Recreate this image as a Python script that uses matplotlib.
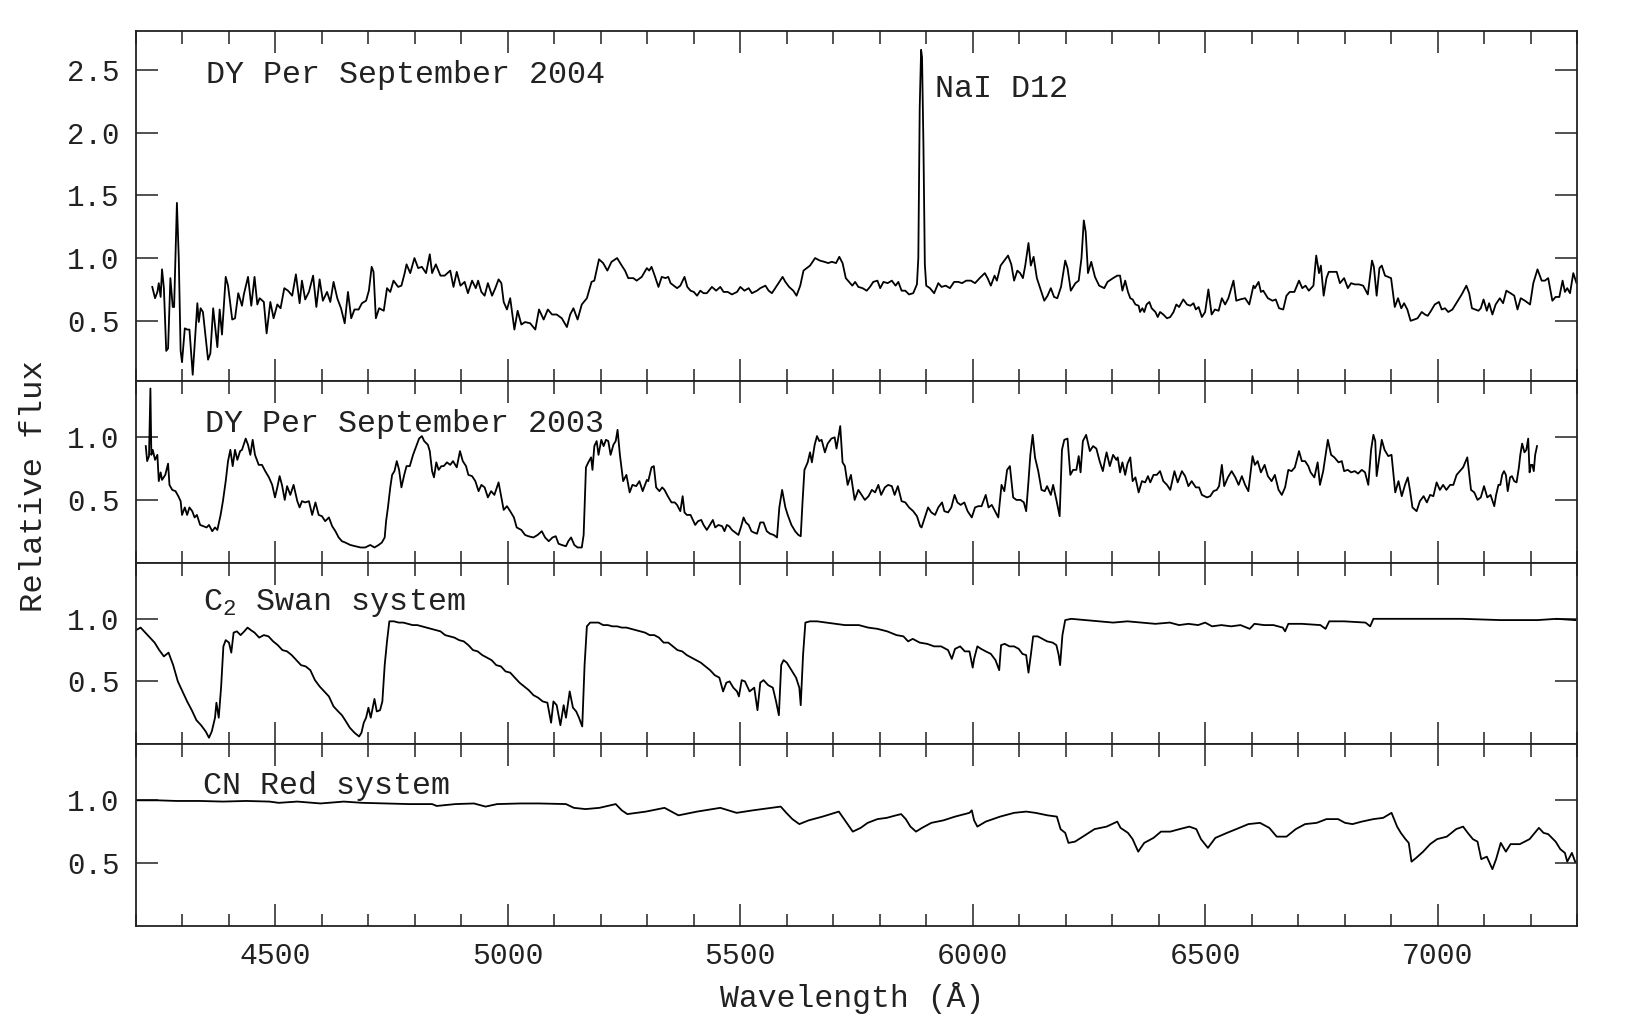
import matplotlib
matplotlib.use('Agg')
import matplotlib.pyplot as plt
from matplotlib.ticker import MultipleLocator, FixedLocator, FormatStrFormatter


# spectra: (wavelength [A], relative flux)
sep2004 = [
    (4235, 0.77), (4241, 0.68), (4246, 0.73), (4249, 0.80), (4253, 0.69), (4256, 0.91),
    (4260, 0.76), (4265, 0.26), (4269, 0.28), (4274, 0.84), (4279, 0.61), (4282, 0.61),
    (4288, 1.44), (4292, 1.00), (4296, 0.26), (4299, 0.17), (4305, 0.44), (4310, 0.43),
    (4315, 0.43), (4322, 0.07), (4332, 0.64), (4335, 0.49), (4339, 0.60), (4344, 0.57),
    (4355, 0.19), (4360, 0.24), (4366, 0.60), (4375, 0.29), (4380, 0.59), (4385, 0.39),
    (4393, 0.85), (4398, 0.78), (4407, 0.51), (4413, 0.52), (4420, 0.72), (4428, 0.62),
    (4432, 0.71), (4441, 0.85), (4448, 0.62), (4455, 0.85), (4461, 0.63), (4466, 0.68),
    (4475, 0.65), (4481, 0.40), (4489, 0.65), (4496, 0.52), (4504, 0.63), (4511, 0.60),
    (4519, 0.76), (4527, 0.74), (4536, 0.70), (4544, 0.87), (4552, 0.64), (4557, 0.82),
    (4564, 0.67), (4572, 0.73), (4581, 0.86), (4588, 0.61), (4595, 0.83), (4602, 0.66),
    (4611, 0.73), (4618, 0.65), (4625, 0.81), (4633, 0.68), (4641, 0.60), (4649, 0.48),
    (4656, 0.73), (4663, 0.52), (4670, 0.59), (4679, 0.59), (4686, 0.64), (4695, 0.66),
    (4701, 0.74), (4707, 0.93), (4711, 0.89), (4716, 0.52), (4723, 0.60), (4733, 0.58),
    (4740, 0.76), (4747, 0.73), (4754, 0.82), (4764, 0.77), (4771, 0.78), (4778, 0.88),
    (4782, 0.95), (4790, 0.88), (4799, 1.00), (4807, 0.92), (4815, 0.93), (4824, 0.88),
    (4832, 1.03), (4837, 0.88), (4845, 0.95), (4855, 0.86), (4864, 0.86), (4876, 0.90),
    (4883, 0.77), (4890, 0.89), (4898, 0.78), (4907, 0.81), (4914, 0.72), (4923, 0.82),
    (4931, 0.76), (4936, 0.82), (4943, 0.73), (4950, 0.70), (4957, 0.80), (4966, 0.70),
    (4973, 0.76), (4980, 0.83), (4986, 0.80), (4991, 0.65), (4998, 0.59), (5005, 0.68),
    (5014, 0.43), (5021, 0.58), (5029, 0.47), (5037, 0.49), (5048, 0.48), (5059, 0.43),
    (5067, 0.59), (5077, 0.51), (5086, 0.59), (5095, 0.55), (5105, 0.55), (5116, 0.52),
    (5127, 0.45), (5134, 0.55), (5141, 0.60), (5150, 0.51), (5159, 0.63), (5170, 0.68),
    (5180, 0.81), (5186, 0.82), (5196, 0.99), (5205, 0.96), (5214, 0.90), (5223, 0.97),
    (5235, 1.00), (5245, 0.94), (5252, 0.90), (5259, 0.84), (5270, 0.84), (5277, 0.82),
    (5288, 0.85), (5299, 0.92), (5304, 0.90), (5309, 0.93), (5314, 0.88), (5324, 0.77),
    (5331, 0.85), (5339, 0.84), (5345, 0.85), (5350, 0.80), (5357, 0.78), (5364, 0.76),
    (5371, 0.78), (5380, 0.85), (5386, 0.77), (5393, 0.74), (5400, 0.73), (5407, 0.70),
    (5414, 0.74), (5421, 0.72), (5428, 0.72), (5439, 0.77), (5448, 0.74), (5457, 0.77),
    (5464, 0.73), (5473, 0.73), (5482, 0.71), (5493, 0.73), (5500, 0.77), (5509, 0.74),
    (5518, 0.76), (5525, 0.72), (5536, 0.74), (5543, 0.76), (5554, 0.78), (5561, 0.74),
    (5568, 0.72), (5577, 0.77), (5584, 0.81), (5591, 0.85), (5597, 0.81), (5605, 0.77),
    (5614, 0.74), (5621, 0.70), (5629, 0.78), (5636, 0.90), (5643, 0.92), (5650, 0.94),
    (5661, 1.00), (5671, 0.98), (5681, 0.97), (5689, 0.96), (5697, 0.97), (5706, 0.96),
    (5713, 1.01), (5720, 0.96), (5727, 0.84), (5734, 0.81), (5741, 0.78), (5747, 0.81),
    (5754, 0.77), (5763, 0.76), (5772, 0.74), (5779, 0.77), (5786, 0.81), (5795, 0.82),
    (5801, 0.76), (5808, 0.81), (5817, 0.80), (5826, 0.82), (5834, 0.78), (5840, 0.81),
    (5847, 0.74), (5855, 0.74), (5863, 0.71), (5872, 0.72), (5880, 0.79), (5883, 1.00),
    (5886, 2.20), (5889, 2.66), (5891, 2.60), (5894, 1.90), (5897, 0.95), (5900, 0.78),
    (5908, 0.76), (5917, 0.72), (5926, 0.80), (5933, 0.77), (5942, 0.78), (5951, 0.76),
    (5960, 0.81), (5969, 0.81), (5977, 0.80), (5986, 0.82), (5996, 0.82), (6005, 0.80),
    (6015, 0.84), (6026, 0.88), (6032, 0.84), (6039, 0.78), (6047, 0.86), (6052, 0.82),
    (6060, 0.94), (6068, 0.98), (6076, 1.02), (6083, 0.95), (6089, 0.82), (6096, 0.90),
    (6102, 0.88), (6108, 0.84), (6113, 0.94), (6120, 1.12), (6125, 0.94), (6131, 1.01),
    (6138, 0.84), (6147, 0.74), (6154, 0.66), (6161, 0.70), (6168, 0.76), (6175, 0.69),
    (6182, 0.68), (6190, 0.77), (6199, 0.98), (6204, 0.92), (6211, 0.74), (6221, 0.80),
    (6228, 0.82), (6234, 1.00), (6239, 1.30), (6243, 1.21), (6248, 0.88), (6255, 0.97),
    (6263, 0.85), (6272, 0.78), (6283, 0.76), (6290, 0.81), (6302, 0.84), (6311, 0.86),
    (6317, 0.86), (6322, 0.74), (6328, 0.82), (6334, 0.73), (6339, 0.68), (6344, 0.67),
    (6350, 0.63), (6357, 0.62), (6360, 0.57), (6365, 0.60), (6369, 0.57), (6374, 0.63),
    (6380, 0.65), (6385, 0.60), (6393, 0.57), (6398, 0.53), (6403, 0.57), (6410, 0.55),
    (6418, 0.52), (6425, 0.53), (6432, 0.57), (6438, 0.63), (6444, 0.61), (6453, 0.67),
    (6461, 0.63), (6468, 0.62), (6475, 0.64), (6480, 0.59), (6486, 0.61), (6493, 0.53),
    (6500, 0.57), (6507, 0.75), (6514, 0.55), (6521, 0.59), (6529, 0.58), (6536, 0.68),
    (6543, 0.63), (6550, 0.68), (6561, 0.82), (6567, 0.66), (6575, 0.67), (6586, 0.68),
    (6595, 0.63), (6604, 0.78), (6607, 0.76), (6615, 0.81), (6620, 0.73), (6625, 0.74),
    (6635, 0.68), (6645, 0.66), (6652, 0.67), (6659, 0.60), (6668, 0.59), (6675, 0.70),
    (6682, 0.73), (6692, 0.73), (6702, 0.82), (6709, 0.76), (6716, 0.78), (6723, 0.74),
    (6733, 0.78), (6739, 1.02), (6745, 0.88), (6749, 0.94), (6755, 0.70), (6761, 0.84),
    (6766, 0.89), (6773, 0.89), (6783, 0.89), (6790, 0.80), (6799, 0.84), (6807, 0.76),
    (6814, 0.80), (6822, 0.79), (6831, 0.79), (6840, 0.78), (6850, 0.71), (6859, 0.98),
    (6863, 0.93), (6869, 0.70), (6875, 0.92), (6880, 0.94), (6887, 0.86), (6900, 0.84),
    (6908, 0.61), (6915, 0.68), (6922, 0.60), (6928, 0.64), (6935, 0.59), (6942, 0.50),
    (6950, 0.51), (6957, 0.52), (6966, 0.57), (6973, 0.55), (6979, 0.54), (6986, 0.58),
    (6994, 0.63), (7003, 0.65), (7009, 0.59), (7016, 0.60), (7023, 0.57), (7032, 0.59),
    (7042, 0.65), (7052, 0.71), (7062, 0.78), (7068, 0.72), (7074, 0.60), (7081, 0.59),
    (7088, 0.58), (7093, 0.60), (7099, 0.67), (7106, 0.58), (7111, 0.64), (7118, 0.55),
    (7125, 0.63), (7134, 0.68), (7141, 0.64), (7148, 0.74), (7157, 0.72), (7165, 0.70),
    (7172, 0.59), (7179, 0.68), (7188, 0.66), (7199, 0.63), (7206, 0.80), (7215, 0.91),
    (7224, 0.82), (7231, 0.82), (7238, 0.84), (7247, 0.66), (7254, 0.69), (7262, 0.69),
    (7269, 0.82), (7274, 0.73), (7279, 0.76), (7285, 0.72), (7292, 0.88), (7299, 0.80),
]

sep2003 = [
    (4221, 0.93), (4224, 0.81), (4228, 0.85), (4231, 1.39), (4233, 0.86), (4236, 0.90),
    (4241, 0.82), (4246, 0.86), (4249, 0.65), (4253, 0.72), (4256, 0.66), (4263, 0.70),
    (4269, 0.79), (4272, 0.62), (4278, 0.58), (4285, 0.57), (4291, 0.53), (4296, 0.49),
    (4299, 0.38), (4305, 0.44), (4310, 0.38), (4315, 0.44), (4321, 0.41), (4326, 0.36),
    (4331, 0.38), (4338, 0.30), (4345, 0.29), (4352, 0.28), (4357, 0.30), (4364, 0.25),
    (4370, 0.28), (4375, 0.26), (4382, 0.38), (4387, 0.49), (4393, 0.65), (4398, 0.81),
    (4403, 0.90), (4408, 0.77), (4413, 0.90), (4418, 0.82), (4424, 0.89), (4428, 0.90),
    (4436, 0.99), (4441, 0.94), (4446, 0.86), (4451, 0.98), (4456, 0.86), (4464, 0.78),
    (4471, 0.78), (4478, 0.73), (4486, 0.68), (4493, 0.62), (4499, 0.52), (4504, 0.60),
    (4509, 0.69), (4514, 0.62), (4520, 0.50), (4525, 0.61), (4532, 0.54), (4539, 0.62),
    (4547, 0.49), (4552, 0.44), (4557, 0.49), (4564, 0.48), (4572, 0.49), (4579, 0.38),
    (4586, 0.48), (4593, 0.38), (4600, 0.37), (4607, 0.33), (4615, 0.36), (4622, 0.29),
    (4629, 0.25), (4636, 0.20), (4643, 0.17), (4650, 0.16), (4661, 0.14), (4672, 0.13),
    (4683, 0.12), (4693, 0.12), (4704, 0.14), (4713, 0.12), (4722, 0.14), (4729, 0.16),
    (4735, 0.20), (4738, 0.33), (4742, 0.44), (4747, 0.60), (4751, 0.70), (4756, 0.73),
    (4761, 0.81), (4766, 0.74), (4771, 0.60), (4777, 0.70), (4782, 0.77), (4789, 0.77),
    (4796, 0.86), (4804, 0.94), (4809, 0.99), (4815, 1.01), (4820, 0.97), (4828, 0.94),
    (4832, 0.89), (4837, 0.73), (4841, 0.68), (4846, 0.80), (4851, 0.74), (4857, 0.77),
    (4862, 0.77), (4869, 0.80), (4876, 0.78), (4882, 0.81), (4890, 0.76), (4897, 0.89),
    (4903, 0.81), (4910, 0.77), (4915, 0.70), (4923, 0.69), (4930, 0.65), (4937, 0.57),
    (4943, 0.62), (4950, 0.60), (4957, 0.52), (4964, 0.57), (4971, 0.54), (4980, 0.64),
    (4986, 0.52), (4991, 0.42), (4998, 0.45), (5005, 0.41), (5013, 0.36), (5019, 0.28),
    (5029, 0.26), (5037, 0.22), (5044, 0.21), (5055, 0.20), (5064, 0.22), (5073, 0.25),
    (5080, 0.20), (5088, 0.17), (5096, 0.20), (5103, 0.21), (5109, 0.15), (5116, 0.14),
    (5125, 0.13), (5130, 0.17), (5136, 0.20), (5143, 0.14), (5150, 0.12), (5159, 0.12),
    (5163, 0.22), (5168, 0.76), (5173, 0.80), (5179, 0.84), (5182, 0.74), (5186, 0.93),
    (5191, 0.97), (5195, 0.86), (5201, 0.98), (5206, 0.93), (5211, 0.98), (5216, 0.97),
    (5221, 0.86), (5227, 0.94), (5232, 0.97), (5236, 1.06), (5241, 0.86), (5248, 0.65),
    (5255, 0.70), (5262, 0.56), (5268, 0.62), (5276, 0.61), (5283, 0.65), (5290, 0.57),
    (5299, 0.66), (5302, 0.65), (5309, 0.76), (5314, 0.77), (5319, 0.60), (5326, 0.57),
    (5332, 0.60), (5337, 0.58), (5344, 0.53), (5352, 0.48), (5359, 0.48), (5364, 0.46),
    (5371, 0.41), (5376, 0.53), (5380, 0.40), (5385, 0.38), (5393, 0.38), (5398, 0.34),
    (5403, 0.30), (5409, 0.33), (5416, 0.34), (5421, 0.30), (5428, 0.26), (5433, 0.29),
    (5441, 0.34), (5446, 0.28), (5453, 0.30), (5461, 0.29), (5466, 0.25), (5471, 0.30),
    (5476, 0.29), (5482, 0.26), (5489, 0.24), (5496, 0.22), (5502, 0.29), (5507, 0.36),
    (5512, 0.32), (5518, 0.30), (5524, 0.25), (5529, 0.24), (5536, 0.23), (5543, 0.32),
    (5550, 0.32), (5557, 0.25), (5564, 0.23), (5572, 0.22), (5579, 0.20), (5584, 0.44),
    (5590, 0.58), (5597, 0.44), (5602, 0.38), (5610, 0.30), (5618, 0.25), (5625, 0.22),
    (5630, 0.21), (5634, 0.49), (5638, 0.74), (5645, 0.80), (5650, 0.88), (5654, 0.80),
    (5660, 0.94), (5665, 1.01), (5670, 0.97), (5675, 0.98), (5682, 0.88), (5688, 0.95),
    (5696, 0.99), (5703, 1.00), (5707, 0.91), (5715, 1.09), (5720, 0.80), (5725, 0.77),
    (5731, 0.62), (5738, 0.70), (5746, 0.50), (5754, 0.58), (5761, 0.54), (5768, 0.50),
    (5776, 0.53), (5783, 0.58), (5790, 0.56), (5797, 0.62), (5803, 0.54), (5811, 0.60),
    (5818, 0.62), (5826, 0.61), (5832, 0.54), (5839, 0.61), (5847, 0.49), (5855, 0.48),
    (5863, 0.44), (5872, 0.41), (5880, 0.37), (5887, 0.29), (5890, 0.28), (5897, 0.36),
    (5904, 0.44), (5911, 0.40), (5919, 0.38), (5926, 0.44), (5934, 0.48), (5939, 0.41),
    (5947, 0.40), (5954, 0.44), (5961, 0.54), (5967, 0.48), (5974, 0.46), (5982, 0.48),
    (5989, 0.41), (5998, 0.36), (6005, 0.44), (6012, 0.45), (6019, 0.45), (6028, 0.54),
    (6034, 0.44), (6041, 0.46), (6048, 0.41), (6055, 0.36), (6062, 0.62), (6068, 0.57),
    (6074, 0.74), (6080, 0.77), (6087, 0.52), (6094, 0.50), (6103, 0.50), (6110, 0.48),
    (6115, 0.41), (6120, 0.65), (6124, 0.86), (6129, 1.02), (6134, 0.84), (6141, 0.73),
    (6148, 0.58), (6155, 0.57), (6160, 0.61), (6168, 0.54), (6173, 0.62), (6180, 0.50),
    (6187, 0.37), (6192, 0.90), (6197, 0.98), (6204, 0.99), (6210, 0.70), (6216, 0.74),
    (6223, 0.74), (6228, 0.85), (6232, 0.72), (6237, 0.97), (6244, 1.02), (6252, 0.89),
    (6259, 0.93), (6266, 0.91), (6273, 0.81), (6280, 0.73), (6284, 0.81), (6288, 0.88),
    (6295, 0.77), (6302, 0.86), (6309, 0.82), (6312, 0.84), (6317, 0.72), (6322, 0.80),
    (6328, 0.70), (6333, 0.79), (6339, 0.84), (6344, 0.65), (6350, 0.68), (6357, 0.56),
    (6364, 0.65), (6371, 0.64), (6377, 0.69), (6382, 0.64), (6389, 0.70), (6396, 0.70),
    (6403, 0.73), (6410, 0.65), (6418, 0.62), (6425, 0.58), (6434, 0.73), (6441, 0.64),
    (6450, 0.73), (6457, 0.69), (6464, 0.61), (6471, 0.65), (6480, 0.60), (6487, 0.60),
    (6493, 0.54), (6504, 0.52), (6511, 0.53), (6518, 0.57), (6525, 0.58), (6530, 0.61),
    (6536, 0.78), (6541, 0.61), (6549, 0.68), (6557, 0.73), (6565, 0.68), (6572, 0.62),
    (6579, 0.69), (6586, 0.62), (6593, 0.57), (6602, 0.85), (6607, 0.78), (6613, 0.81),
    (6620, 0.72), (6628, 0.78), (6635, 0.69), (6643, 0.65), (6650, 0.70), (6658, 0.58),
    (6665, 0.54), (6672, 0.60), (6679, 0.74), (6686, 0.73), (6693, 0.76), (6702, 0.89),
    (6708, 0.81), (6715, 0.81), (6722, 0.77), (6727, 0.72), (6735, 0.68), (6742, 0.80),
    (6747, 0.62), (6754, 0.73), (6764, 0.98), (6771, 0.86), (6778, 0.84), (6787, 0.80),
    (6794, 0.81), (6799, 0.73), (6807, 0.74), (6814, 0.72), (6822, 0.73), (6829, 0.71),
    (6837, 0.74), (6844, 0.72), (6851, 0.62), (6857, 0.90), (6862, 1.02), (6866, 0.97),
    (6869, 0.69), (6875, 0.85), (6880, 0.98), (6886, 0.90), (6894, 0.85), (6901, 0.86),
    (6909, 0.56), (6916, 0.65), (6923, 0.53), (6930, 0.62), (6936, 0.68), (6941, 0.57),
    (6946, 0.44), (6955, 0.41), (6962, 0.49), (6970, 0.53), (6977, 0.48), (6984, 0.54),
    (6991, 0.53), (6998, 0.64), (7005, 0.58), (7012, 0.62), (7019, 0.58), (7027, 0.62),
    (7034, 0.62), (7041, 0.70), (7048, 0.73), (7055, 0.76), (7064, 0.84), (7072, 0.58),
    (7079, 0.56), (7086, 0.50), (7093, 0.52), (7100, 0.61), (7107, 0.52), (7114, 0.54),
    (7122, 0.45), (7126, 0.54), (7131, 0.62), (7135, 0.62), (7139, 0.70), (7143, 0.73),
    (7147, 0.70), (7151, 0.57), (7156, 0.68), (7160, 0.69), (7165, 0.65), (7170, 0.64),
    (7175, 0.76), (7178, 0.86), (7182, 0.95), (7187, 0.88), (7191, 0.90), (7195, 0.99),
    (7198, 0.72), (7201, 0.78), (7204, 0.78), (7207, 0.73), (7210, 0.86), (7214, 0.93),
]

c2_swan = [
    (4200, 0.91), (4210, 0.93), (4225, 0.87), (4240, 0.81), (4250, 0.75), (4260, 0.70),
    (4270, 0.73), (4280, 0.63), (4290, 0.50), (4300, 0.42), (4310, 0.34), (4320, 0.27),
    (4330, 0.19), (4340, 0.15), (4350, 0.10), (4357, 0.05), (4363, 0.10), (4370, 0.21),
    (4373, 0.33), (4378, 0.21), (4383, 0.45), (4388, 0.78), (4393, 0.83), (4400, 0.81),
    (4405, 0.73), (4410, 0.89), (4417, 0.90), (4425, 0.87), (4433, 0.90), (4440, 0.93),
    (4447, 0.91), (4455, 0.89), (4465, 0.85), (4475, 0.87), (4485, 0.86), (4495, 0.82),
    (4505, 0.79), (4515, 0.75), (4525, 0.74), (4535, 0.71), (4545, 0.67), (4555, 0.63),
    (4565, 0.62), (4575, 0.59), (4585, 0.51), (4595, 0.46), (4605, 0.42), (4615, 0.38),
    (4625, 0.30), (4635, 0.26), (4643, 0.23), (4650, 0.19), (4660, 0.13), (4670, 0.09),
    (4680, 0.06), (4685, 0.09), (4690, 0.17), (4695, 0.21), (4700, 0.29), (4705, 0.21),
    (4713, 0.36), (4718, 0.26), (4725, 0.27), (4730, 0.34), (4735, 0.63), (4740, 0.82),
    (4745, 0.98), (4755, 0.98), (4765, 0.97), (4775, 0.97), (4785, 0.96), (4795, 0.95),
    (4805, 0.95), (4815, 0.94), (4825, 0.93), (4835, 0.92), (4845, 0.91), (4855, 0.90),
    (4865, 0.87), (4875, 0.86), (4885, 0.85), (4895, 0.83), (4905, 0.82), (4915, 0.79),
    (4925, 0.75), (4935, 0.74), (4945, 0.71), (4955, 0.69), (4965, 0.67), (4975, 0.63),
    (4985, 0.62), (4995, 0.58), (5005, 0.57), (5015, 0.53), (5025, 0.49), (5035, 0.46),
    (5045, 0.43), (5055, 0.39), (5065, 0.37), (5075, 0.34), (5085, 0.33), (5093, 0.17),
    (5098, 0.34), (5105, 0.31), (5113, 0.15), (5120, 0.31), (5125, 0.21), (5133, 0.42),
    (5140, 0.29), (5147, 0.26), (5153, 0.21), (5160, 0.14), (5165, 0.63), (5170, 0.94),
    (5177, 0.97), (5185, 0.97), (5195, 0.97), (5205, 0.95), (5215, 0.95), (5225, 0.94),
    (5235, 0.94), (5245, 0.93), (5255, 0.93), (5265, 0.92), (5275, 0.91), (5285, 0.90),
    (5295, 0.89), (5305, 0.87), (5315, 0.87), (5325, 0.85), (5335, 0.81), (5345, 0.81),
    (5355, 0.78), (5365, 0.75), (5375, 0.74), (5385, 0.71), (5395, 0.69), (5405, 0.67),
    (5415, 0.65), (5425, 0.62), (5435, 0.59), (5445, 0.55), (5455, 0.53), (5463, 0.42),
    (5470, 0.49), (5477, 0.50), (5485, 0.45), (5493, 0.42), (5497, 0.38), (5503, 0.51),
    (5510, 0.50), (5520, 0.42), (5530, 0.45), (5537, 0.27), (5543, 0.49), (5550, 0.51),
    (5560, 0.47), (5570, 0.45), (5577, 0.34), (5583, 0.23), (5588, 0.63), (5593, 0.67),
    (5600, 0.65), (5610, 0.59), (5620, 0.53), (5627, 0.45), (5630, 0.31), (5635, 0.71),
    (5640, 0.97), (5650, 0.98), (5665, 0.98), (5685, 0.97), (5705, 0.96), (5725, 0.95),
    (5745, 0.95), (5755, 0.95), (5775, 0.93), (5795, 0.92), (5816, 0.90), (5836, 0.87),
    (5851, 0.86), (5861, 0.82), (5871, 0.84), (5886, 0.81), (5902, 0.80), (5917, 0.78),
    (5932, 0.78), (5947, 0.75), (5955, 0.68), (5962, 0.76), (5973, 0.78), (5983, 0.74),
    (5993, 0.74), (6000, 0.61), (6003, 0.68), (6010, 0.78), (6018, 0.76), (6028, 0.74),
    (6039, 0.72), (6049, 0.67), (6057, 0.59), (6061, 0.79), (6069, 0.80), (6079, 0.78),
    (6089, 0.78), (6099, 0.76), (6107, 0.72), (6115, 0.71), (6120, 0.57), (6125, 0.71),
    (6130, 0.86), (6140, 0.86), (6150, 0.84), (6160, 0.82), (6172, 0.81), (6180, 0.79),
    (6185, 0.71), (6188, 0.63), (6193, 0.87), (6199, 0.99), (6212, 1.00), (6241, 0.99),
    (6272, 0.98), (6302, 0.97), (6333, 0.98), (6363, 0.97), (6393, 0.96), (6424, 0.97),
    (6444, 0.95), (6464, 0.96), (6485, 0.95), (6500, 0.97), (6515, 0.94), (6535, 0.95),
    (6556, 0.94), (6576, 0.95), (6596, 0.92), (6606, 0.96), (6627, 0.95), (6647, 0.95),
    (6667, 0.93), (6672, 0.90), (6679, 0.96), (6708, 0.96), (6748, 0.95), (6759, 0.92),
    (6767, 0.98), (6799, 0.98), (6845, 0.97), (6855, 0.94), (6862, 1.00), (6951, 1.00),
    (7053, 1.00), (7134, 0.99), (7215, 0.99), (7256, 1.00), (7296, 0.99),
]

cn_red = [
    (4202, 1.00), (4247, 1.00), (4287, 0.995), (4337, 0.995), (4387, 0.99), (4437, 0.995),
    (4487, 0.99), (4507, 0.98), (4547, 0.99), (4597, 0.975), (4647, 0.99), (4687, 0.98),
    (4737, 0.975), (4787, 0.97), (4837, 0.97), (4847, 0.955), (4887, 0.97), (4927, 0.975),
    (4952, 0.95), (4977, 0.97), (5027, 0.975), (5067, 0.975), (5125, 0.97), (5142, 0.94),
    (5167, 0.93), (5197, 0.94), (5232, 0.97), (5245, 0.92), (5257, 0.89), (5297, 0.91),
    (5337, 0.94), (5352, 0.91), (5367, 0.88), (5407, 0.91), (5457, 0.94), (5492, 0.90),
    (5527, 0.92), (5587, 0.95), (5599, 0.90), (5612, 0.85), (5627, 0.81), (5647, 0.84),
    (5677, 0.87), (5712, 0.91), (5727, 0.83), (5742, 0.75), (5759, 0.78), (5774, 0.82),
    (5795, 0.85), (5815, 0.86), (5835, 0.88), (5846, 0.89), (5856, 0.85), (5866, 0.79),
    (5878, 0.75), (5891, 0.78), (5911, 0.82), (5937, 0.84), (5962, 0.87), (5983, 0.89),
    (5993, 0.90), (5998, 0.92), (6003, 0.84), (6010, 0.79), (6028, 0.83), (6059, 0.87),
    (6089, 0.90), (6115, 0.91), (6135, 0.90), (6161, 0.88), (6181, 0.87), (6189, 0.77),
    (6199, 0.74), (6206, 0.66), (6220, 0.67), (6237, 0.71), (6262, 0.77), (6288, 0.79),
    (6311, 0.83), (6318, 0.78), (6334, 0.74), (6344, 0.69), (6356, 0.59), (6369, 0.66),
    (6389, 0.70), (6405, 0.75), (6425, 0.75), (6445, 0.77), (6466, 0.79), (6481, 0.77),
    (6491, 0.69), (6506, 0.62), (6522, 0.70), (6547, 0.74), (6567, 0.77), (6593, 0.81),
    (6618, 0.82), (6638, 0.78), (6654, 0.71), (6675, 0.71), (6695, 0.77), (6715, 0.81),
    (6740, 0.82), (6761, 0.85), (6786, 0.85), (6801, 0.82), (6817, 0.81), (6837, 0.83),
    (6862, 0.85), (6883, 0.86), (6901, 0.90), (6913, 0.79), (6921, 0.74), (6931, 0.69),
    (6938, 0.66), (6944, 0.51), (6954, 0.54), (6969, 0.59), (6984, 0.65), (6999, 0.69),
    (7020, 0.71), (7040, 0.77), (7055, 0.79), (7065, 0.74), (7076, 0.69), (7086, 0.67),
    (7094, 0.53), (7106, 0.55), (7118, 0.45), (7126, 0.53), (7136, 0.66), (7147, 0.59),
    (7157, 0.65), (7177, 0.65), (7198, 0.69), (7218, 0.78), (7228, 0.74), (7238, 0.73),
    (7254, 0.67), (7264, 0.61), (7274, 0.58), (7279, 0.51), (7289, 0.58), (7296, 0.51),
]

spectra = [sep2004, sep2003, c2_swan, cn_red]
labels = ['DY Per September 2004', 'DY Per September 2003',
          r'C$_2$ Swan system', 'CN Red system']
label_pos = [(4350, 2.46), (4348, 1.11), (4344, 1.125), (4344, 1.115)]
ylims = [(0.02, 2.81), (0.0, 1.45), (0.0, 1.45), (0.0, 1.45)]
yticks = [[0.5, 1.0, 1.5, 2.0, 2.5], [0.5, 1.0], [0.5, 1.0], [0.5, 1.0]]


if __name__ == '__main__':
    plt.rcParams['font.family'] = ['Liberation Mono', 'DejaVu Sans Mono']
    plt.rcParams['mathtext.fontset'] = 'custom'
    plt.rcParams['mathtext.rm'] = 'Liberation Mono'
    plt.rcParams['mathtext.default'] = 'rm'
    ink = '#222222'

    fig = plt.figure(figsize=(16.38, 10.24), dpi=100)

    # panel edges in pixels from the top of the figure
    edges = [31, 381, 562.5, 744, 925.5]
    left, right = 136 / 1638, 1577 / 1638

    axes = []
    for i, data in enumerate(spectra):
        top, bottom = edges[i], edges[i + 1]
        ax = fig.add_axes([left, 1 - bottom / 1024, right - left, (bottom - top) / 1024])
        wave, flux = zip(*data)
        ax.plot(wave, flux, color='black', lw=1.3)

        ax.set_xlim(4200, 7300)
        ax.set_ylim(*ylims[i])
        ax.xaxis.set_major_locator(MultipleLocator(500))
        ax.xaxis.set_minor_locator(MultipleLocator(100))
        ax.yaxis.set_major_locator(FixedLocator(yticks[i]))
        ax.yaxis.set_major_formatter(FormatStrFormatter('%.1f'))

        ax.tick_params(which='both', direction='in', top=True, right=True,
                       color=ink, width=1.1)
        ax.tick_params(which='major', length=16)
        ax.tick_params(which='minor', length=9)
        ax.tick_params(axis='y', labelsize=21, pad=12, labelcolor=ink)
        ax.tick_params(axis='x', labelsize=21.5, pad=12, labelcolor=ink)
        if i < 3:
            ax.tick_params(axis='x', labelbottom=False)
        for sp in ax.spines.values():
            sp.set_linewidth(1.3)
            sp.set_color(ink)

        ax.text(label_pos[i][0], label_pos[i][1], labels[i], fontsize=22.9,
                color=ink, ha='left', va='center')
        axes.append(ax)

    axes[0].text(5919, 2.345, 'NaI D12', fontsize=22.9, color=ink,
                 ha='left', va='center')

    fig.text(852 / 1638, 1 - 998 / 1024, 'Wavelength (Å)', fontsize=22.7,
             color=ink, ha='center', va='center')
    fig.text(34 / 1638, 1 - 486 / 1024, 'Relative flux', fontsize=23.2,
             color=ink, ha='center', va='center', rotation=90)

    fig.savefig('out.png', dpi=100)
